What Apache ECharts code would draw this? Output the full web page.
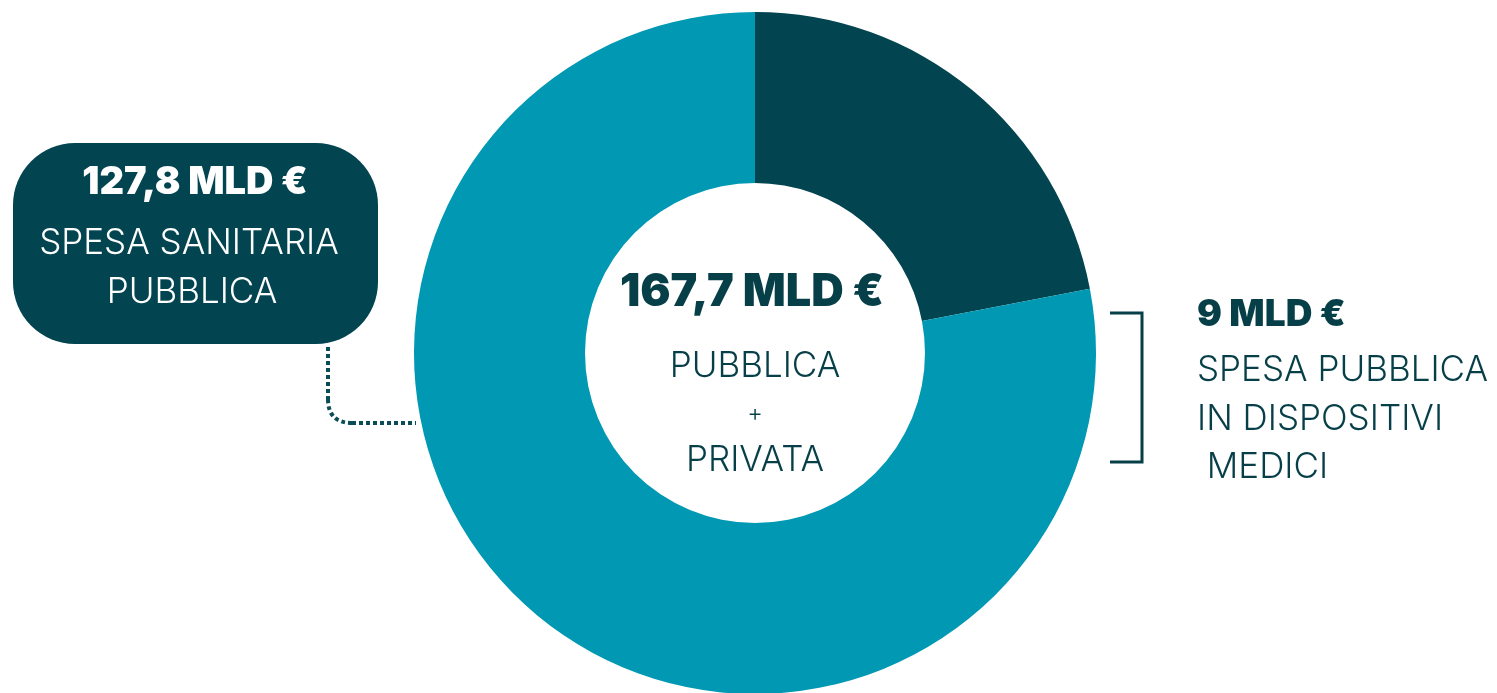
<!DOCTYPE html>
<html>
<head>
<meta charset="utf-8">
<script src="https://cdn.jsdelivr.net/npm/echarts@6/dist/echarts.min.js"></script>
<style>
  html, body { margin: 0; padding: 0; background: #fff; }
  #chart { width: 1497px; height: 693px; }
</style>
</head>
<body>
<div id="chart"></div>
<script>
// spicchi (l'angolo scuro e' circa 79 gradi)
const sliceNames = ['Spesa privata', 'Spesa sanitaria pubblica'];
const sliceValues = [36, 127.8];
const sliceColors = ['#02444f', '#0098b3'];

const totalLabel = '167,7 MLD €';
const totalLines = ['PUBBLICA', '+', 'PRIVATA'];
const publicLabel = '127,8 MLD €';
const publicLines = ['SPESA SANITARIA', 'PUBBLICA'];
const devicesLabel = '9 MLD €';
const devicesLines = ['SPESA PUBBLICA', 'IN DISPOSITIVI', ' MEDICI'];

const darkText = '#073f48';
const boldFont = 'Inter';
const lightFont = 'Inter';

let myChart = echarts.init(document.getElementById('chart'));

function txt(text, x, y, size, weight, color, align) {
    return {
        type: 'text',
        z: 10,
        style: {
            text: text,
            x: x,
            y: y,
            textAlign: align || 'center',
            textVerticalAlign: 'middle',
            fontSize: size,
            fontWeight: weight,
            fontFamily: weight >= 700 ? boldFont : lightFont,
            fill: color
        }
    };
}

const dotStyle = { fill: 'none', stroke: '#0b4d57', lineWidth: 4, lineDash: [4, 3] };

let graphics = [
    // box a sinistra
    {
        type: 'rect',
        shape: { x: 13, y: 143, width: 365, height: 201, r: 62 },
        style: { fill: '#02444f' }
    },
    // linea tratteggiata verso la ciambella
    { type: 'line', shape: { x1: 328, y1: 347, x2: 328, y2: 399 }, style: dotStyle },
    { type: 'bezierCurve', shape: { x1: 328, y1: 399, cpx1: 328, cpy1: 423, x2: 352, y2: 423 }, style: dotStyle },
    { type: 'line', shape: { x1: 352, y1: 423, x2: 416, y2: 423 }, style: dotStyle },
    txt(publicLabel, 195, 183, 38, 900, '#ffffff'),
    txt(publicLines[0], 189, 243, 35, 300, '#ffffff'),
    txt(publicLines[1], 192, 292, 35, 300, '#ffffff'),
    // centro
    txt(totalLabel, 752, 292, 45, 900, darkText),
    txt(totalLines[0], 755, 366, 35, 300, darkText),
    txt(totalLines[1], 755, 414, 24, 300, darkText),
    txt(totalLines[2], 755, 460, 35, 300, darkText),
    // parentesi a destra
    {
        type: 'polyline',
        shape: { points: [[1110, 313], [1142, 313], [1142, 462], [1110, 462]] },
        style: { fill: 'none', stroke: '#073f48', lineWidth: 3 }
    },
    txt(devicesLabel, 1197, 315, 37, 900, darkText, 'left'),
    txt(devicesLines[0], 1197, 370, 35, 300, darkText, 'left'),
    txt(devicesLines[1], 1197, 419, 35, 300, darkText, 'left'),
    txt(devicesLines[2], 1197, 467, 35, 300, darkText, 'left')
];

let option = {
    animation: false,
    backgroundColor: '#ffffff',
    series: [
        {
            type: 'pie',
            center: [755, 353],
            radius: [170, 341],
            startAngle: 90,
            clockwise: true,
            silent: true,
            label: { show: false },
            labelLine: { show: false },
            itemStyle: { borderWidth: 0 },
            data: sliceValues.map((v, i) => ({
                name: sliceNames[i],
                value: v,
                itemStyle: { color: sliceColors[i] }
            }))
        }
    ],
    graphic: graphics
};

myChart.setOption(option);
</script>
</body>
</html>
